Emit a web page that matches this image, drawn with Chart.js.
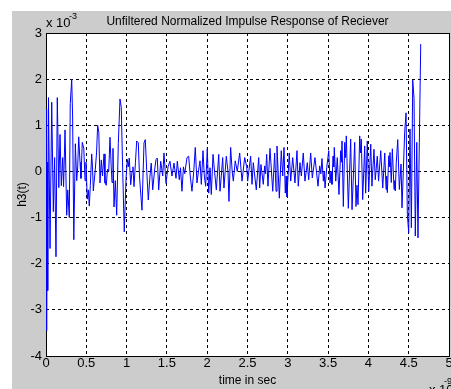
<!DOCTYPE html>
<html><head><meta charset="utf-8">
<script src="https://cdn.jsdelivr.net/npm/chart.js@4"></script>
<style>html,body{margin:0;padding:0;background:#fff;overflow:hidden}canvas{position:absolute;left:0;top:0}</style>
</head><body>
<canvas id="c" width="451" height="389"></canvas>
<script>
// time axis in units of 1e-9 s, response in units of 1e-3
const timeNs = [
0.000,0.005,0.010,0.016,0.021,0.031,0.050,0.071,0.091,0.107,0.124,0.140,0.159,0.174,0.190,0.207,0.218,0.236,0.257,0.270,
0.289,0.301,0.319,0.330,0.345,0.364,0.381,0.393,0.406,0.422,0.434,0.450,0.469,0.484,0.496,0.512,0.525,0.537,0.550,0.567,
0.577,0.587,0.612,0.627,0.641,0.655,0.670,0.686,0.701,0.720,0.732,0.748,0.763,0.778,0.794,0.809,0.819,
0.831,0.844,0.860,0.877,0.897,0.918,0.934,0.949,0.971,0.993,1.009,1.021,1.033,1.051,1.067,1.079,1.092,1.110,1.125,1.145,
1.160,1.172,1.191,1.216,1.232,1.249,1.269,1.290,1.306,1.324,1.349,1.365,1.381,1.398,1.423,1.448,1.464,1.489,1.514,1.538,
1.563,1.588,1.613,1.629,1.654,
1.669,1.687,1.705,1.721,1.749,1.770,1.790,1.811,1.833,1.852,1.873,1.895,1.911,1.927,1.948,1.964,1.981,2.001,2.019,2.035,
2.051,2.072,2.093,2.113,2.143,2.159,2.175,2.192,2.208,2.237,2.258,2.270,2.291,2.310,2.324,2.348,2.373,2.403,2.432,2.465,2.490,
2.502,2.539,2.556,2.572,2.609,2.639,2.651,2.667,2.696,2.713,2.725,2.738,2.754,2.779,2.813,2.837,2.854,2.866,2.895,2.919,
2.937,2.953,2.969,2.979,2.990,3.018,3.036,3.061,3.089,3.114,3.130,3.151,3.168,3.192,3.213,3.242,3.259,3.284,3.304,3.337,
3.375,3.396,3.410,3.424,3.441,3.452,3.462,3.483,3.508,3.524,3.536,3.548,3.561,3.570,3.577,3.595,3.614,3.635,3.656,3.665,
3.673,3.689,3.706,3.716,3.726,3.751,3.780,3.797,3.830,3.846,3.858,3.871,3.892,3.902,3.912,3.929,3.954,3.966,3.986,4.004,
4.029,4.044,4.069,4.085,4.110,4.126,4.153,4.178,
4.203,4.219,4.227,4.235,4.253,4.261,4.268,4.284,4.297,4.318,4.326,4.334,4.346,4.364,4.384,4.405,4.417,4.433,4.450,4.467,
4.483,4.500,4.516,4.533,4.550,4.566,4.582,4.600,4.615,4.632,4.649
];
const h3 = [
-0.6,1.35,-3.45,0.2,-2.58,1.6,-1.67,1.5,-0.87,0.3,-1.85,1.6,-0.35,0.8,-0.31,0.3,-0.33,0.9,-0.95,-0.4,
-1.0,1.47,2.0,1.2,-1.48,0.6,-0.2,0.1,0.75,0.2,-0.15,0.63,0.5,-0.2,0.2,-0.6,-0.4,-0.75,-0.3,0.38,
0.1,-0.42,0.05,0.4,1.0,0.85,-0.25,0.25,-0.1,0.38,-0.25,-0.3,0.05,0.0,0.74,0.1,-0.24,
0.5,-0.77,-0.2,-0.95,0.6,1.57,1.39,0.2,-1.31,-0.15,0.26,0.1,0.29,-0.29,0.0,0.1,-0.33,0.2,0.66,0.62,
-0.1,-0.4,-0.84,0.62,0.69,0.05,-0.62,-0.1,0.18,-0.4,0.05,0.26,0.29,-0.4,0.22,-0.1,0.4,-0.26,0.1,0.22,
-0.1,0.18,-0.15,0.22,-0.18,
0.08,-0.43,0.1,-0.05,0.3,0.33,-0.1,-0.43,0.0,0.52,-0.25,0.05,0.23,-0.28,0.45,-0.1,-0.32,0.5,-0.47,0.08,
-0.5,0.37,-0.03,-0.4,0.37,-0.43,-0.1,0.3,-0.36,0.33,0.0,-0.65,0.52,0.0,-0.21,0.23,0.0,0.4,-0.21,0.3,0.1,
-0.21,0.33,-0.28,0.19,-0.4,0.3,-0.36,0.15,-0.28,0.12,-0.05,0.37,-0.32,0.5,-0.43,0.4,-0.43,0.55,-0.58,0.45,
-0.1,0.52,-0.47,-0.1,-0.55,0.4,-0.21,0.3,-0.25,0.45,-0.32,0.19,-0.1,0.4,-0.21,0.19,-0.18,0.4,-0.14,0.3,
-0.32,0.12,-0.05,0.28,-0.21,0.0,-0.36,0.08,0.45,-0.25,0.0,-0.28,0.33,0.1,0.52,-0.21,0.3,-0.5,0.45,0.2,
0.66,-0.76,0.63,0.3,0.77,-0.8,0.7,-0.83,0.63,-0.76,-0.3,-0.72,0.77,0.4,0.7,-0.61,0.55,-0.47,0.66,-0.43,
0.59,-0.32,0.48,-0.18,0.33,-0.21,0.45,-0.36,
0.4,-0.39,-0.1,-0.46,0.34,0.1,0.41,-0.24,0.49,-0.39,-0.2,-0.42,0.2,0.69,-0.39,0.16,-0.79,0.0,0.85,1.27,
-0.93,-1.33,0.92,-1.22,1.98,1.58,-1.4,0.63,-1.44,0.63,2.76
];
const xTicks = [0,0.5,1,1.5,2,2.5,3,3.5,4,4.5,5];
const yTicks = [-4,-3,-2,-1,0,1,2,3];
const titleText = 'Unfiltered Normalized Impulse Response of Reciever';
const xLabel = 'time in sec';
const yLabel = 'h3(t)';
const xExponent = '-9';
const yExponent = '-3';

const F = '"Liberation Sans", Arial, sans-serif';
const points = timeNs.map((t, i) => ({x: t, y: h3[i]}));

const bgPlugin = {
  id: 'bg',
  beforeDraw(chart) {
    const {ctx, chartArea: a} = chart;
    ctx.save();
    ctx.fillStyle = '#ffffff';
    ctx.fillRect(0, 0, chart.width, chart.height);
    ctx.fillStyle = '#cccccc';
    ctx.fillRect(12, 11, chart.width - 12, chart.height - 11);
    ctx.fillStyle = '#ffffff';
    ctx.fillRect(a.left, a.top, a.right - a.left, a.bottom - a.top);
    ctx.restore();
  },
  beforeDatasetsDraw(chart) {
    const {ctx, chartArea: a} = chart;
    ctx.save();
    ctx.strokeStyle = '#000';
    ctx.lineWidth = 1;
    ctx.setLineDash([]);
    ctx.strokeRect(a.left + 0.5, a.top + 0.5, a.right - a.left, a.bottom - a.top);
    ctx.restore();
  },
  afterDraw(chart) {
    const {ctx} = chart;
    ctx.save();
    ctx.fillStyle = '#000';
    ctx.textBaseline = 'alphabetic';
    ctx.textAlign = 'left';
    ctx.font = '13px ' + F;
    ctx.fillText('x 10', 46, 27);
    ctx.fillText('x 10', 429, 394);
    ctx.font = '9px ' + F;
    ctx.fillText(yExponent, 69, 19);
    ctx.fillText(xExponent, 444, 384);
    ctx.restore();
  }
};

new Chart(document.getElementById('c').getContext('2d'), {
  type: 'line',
  data: {datasets: [{data: points, borderColor: '#0000ff', borderWidth: 1, pointRadius: 0, fill: false, tension: 0}]},
  options: {
    responsive: false, animation: false, events: [],
    layout: {padding: {top: 0, right: 2, bottom: 0, left: 0}},
    plugins: {
      legend: {display: false}, tooltip: {enabled: false},
      title: {display: true, text: titleText, color: '#000', fullSize: false,
        font: {family: F, size: 12, weight: 'normal', lineHeight: 1.2}, padding: {top: 14.8, bottom: 3.8}}
    },
    scales: {
      x: {
        type: 'linear', min: 0, max: 5,
        afterBuildTicks: s => { s.ticks = xTicks.map(v => ({value: v})); },
        afterFit: s => { s.height = 33; s.paddingLeft = 0; s.paddingRight = 0; },
        grid: {color: '#000', lineWidth: 1, drawTicks: false},
        border: {display: false, dash: [3, 3]},
        ticks: {color: '#000', font: {family: F, size: 13}, padding: 0, maxRotation: 0, autoSkip: false, callback: v => String(v)},
        title: {display: true, text: xLabel, color: '#000', font: {family: F, size: 12, lineHeight: 1.2}, padding: {top: 0, bottom: 1}}
      },
      y: {
        type: 'linear', min: -4, max: 3,
        afterBuildTicks: s => { s.ticks = yTicks.map(v => ({value: v})); },
        afterFit: s => { s.width = 46; s.paddingTop = 0; s.paddingBottom = 0; },
        grid: {color: '#000', lineWidth: 1, drawTicks: false},
        border: {display: false, dash: [3, 3]},
        ticks: {color: '#000', font: {family: F, size: 13}, padding: 4, autoSkip: false, callback: v => String(v)},
        title: {display: true, text: yLabel, color: '#000', font: {family: F, size: 12, lineHeight: 1.2}, padding: {top: 15, bottom: 0}}
      }
    }
  },
  plugins: [bgPlugin]
});
</script>
</body></html>
